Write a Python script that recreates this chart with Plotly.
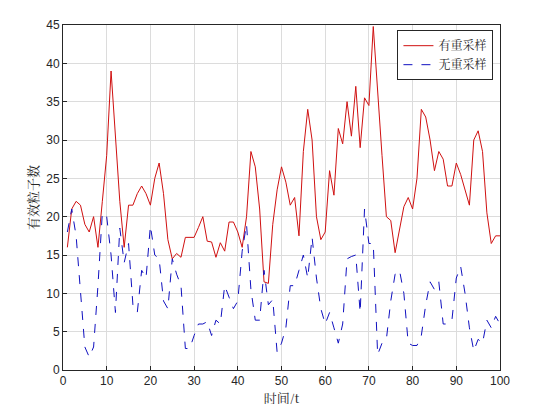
import plotly.graph_objects as go

t = list(range(1, 101))

# 有重采样
resampled = [16, 21, 22, 21.5, 19, 18, 20, 16, 22, 28,
             39, 30, 22, 16, 21.5, 21.5, 23, 24, 23, 21.5,
             25, 27, 23, 17, 14.5, 15.2, 14.7, 17.3, 17.3, 17.3,
             18.6, 20, 16.8, 16.7, 14.7, 16.6, 15.5, 19.3, 19.3, 18,
             16, 20, 28.5, 26.5, 21, 11.5, 11.3, 19, 23.5, 26.5,
             24.5, 21.5, 22.5, 17.5, 28.5, 34, 30, 20, 17, 18,
             26, 22.8, 31.5, 29.5, 35, 30.5, 37, 29, 35.5, 34.5,
             44.8, 36, 28, 20, 19.5, 15.3, 18.5, 21.3, 22.5, 21,
             25, 34, 33, 30, 26, 28.5, 27.5, 24, 24, 27,
             25.5, 23.5, 21.5, 30, 31.2, 28.5, 20.5, 16.5, 17.5, 17.5]

# 无重采样
no_resampled = [18, 21, 17.5, 10, 3, 1.7, 3, 11, 20.5, 20,
                15, 7.5, 18.5, 14, 16.5, 8.5, 7.5, 13, 12, 18.8,
                15, 14.5, 9, 8, 14.5, 12.5, 11, 2.8, 2.8, 4.5,
                6, 6, 6.3, 4.5, 6.5, 6, 11, 9.5, 8, 9,
                15.5, 19, 10.5, 6.5, 6.5, 13, 8.5, 9.2, 2.3, 3.5,
                5.5, 11, 11, 13, 15, 12, 17.3, 12, 8, 6,
                7.5, 5.5, 3.5, 6, 14.5, 14.8, 15, 7.5, 21, 16.5,
                16.5, 2, 3.5, 4, 9, 12.5, 13, 10, 3.5, 3.2,
                3.2, 4.5, 8.5, 11.5, 10.5, 11.5, 6, 6, 6.5, 12,
                13.5, 10, 5.5, 2.5, 4, 3.5, 6.5, 5.5, 7, 6]

cjk = "Noto Serif CJK SC, Noto Sans CJK SC, serif"

fig = go.Figure()
fig.add_trace(go.Scatter(x=t, y=resampled, mode="lines", name="有重采样",
                         line=dict(color="#d01010", width=1)))
fig.add_trace(go.Scatter(x=t, y=no_resampled, mode="lines", name="无重采样",
                         line=dict(color="#1010c0", width=1, dash="dash")))

axis_common = dict(showgrid=True, gridcolor="#dcdcdc", showline=True, mirror=True,
                   linecolor="#262626", linewidth=1, ticks="inside", ticklen=4,
                   tickcolor="#262626", zeroline=False, automargin=False,
                   tickfont=dict(family="Liberation Sans, Arial", size=12, color="#262626"))

fig.update_layout(
    width=542, height=404,
    paper_bgcolor="white", plot_bgcolor="white",
    margin=dict(l=55, r=50, t=17, b=42),
    xaxis=dict(range=[0, 100], dtick=10,
               title=dict(text="时间/t", font=dict(family=cjk, size=13, color="#262626"), standoff=2),
               **axis_common),
    yaxis=dict(range=[0, 45], dtick=5,
               title=dict(text="有效粒子数", font=dict(family=cjk, size=13, color="#262626"), standoff=4),
               **axis_common),
    legend=dict(x=0.985, y=0.985, xanchor="right", yanchor="top",
                bgcolor="white", bordercolor="#262626", borderwidth=1,
                font=dict(family=cjk, size=12, color="#262626")),
    showlegend=True,
)

fig.write_html("out.html")
